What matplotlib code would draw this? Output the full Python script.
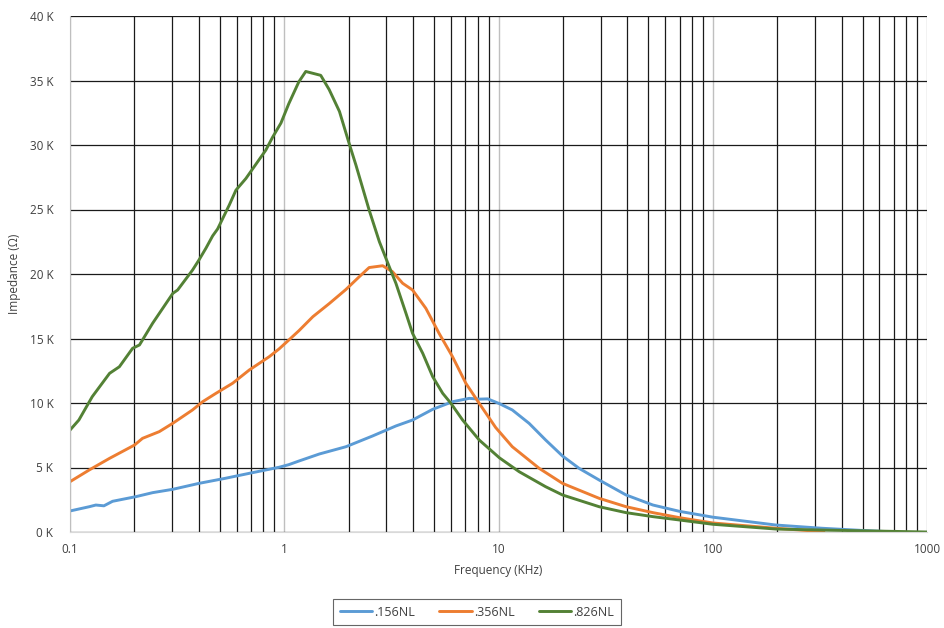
import matplotlib
matplotlib.use("Agg")
import matplotlib.pyplot as plt
from matplotlib.ticker import FixedLocator, FuncFormatter, NullFormatter

freq_blue = [0.1, 0.123, 0.132, 0.144, 0.158, 0.203, 0.243, 0.302, 0.40, 0.53, 0.711, 0.947, 1.05, 1.17, 1.46,
             1.94, 2.58, 3.32, 3.97, 4.93, 6.1, 7.3, 8.13, 8.9, 10.1, 11.6, 13.9, 16.6, 19.9, 23.8, 29.5, 39.4,
             52.6, 70, 100, 197, 324, 500, 650]
z_blue = [1.63, 1.96, 2.09, 2.03, 2.38, 2.74, 3.05, 3.31, 3.77, 4.16, 4.6, 5.02, 5.22, 5.5, 6.05,
          6.61, 7.44, 8.22, 8.68, 9.51, 10.1, 10.36, 10.3, 10.32, 9.95, 9.46, 8.42, 7.13, 5.89, 4.93, 4.03, 2.87,
          2.09, 1.6, 1.15, 0.54, 0.29, 0.12, 0.03]

freq_orange = [0.1, 0.123, 0.153, 0.20, 0.218, 0.261, 0.302, 0.373, 0.416, 0.48, 0.574, 0.687, 0.851, 0.947,
               1.05, 1.17, 1.36, 1.62, 1.94, 2.24, 2.49, 2.88, 3.20, 3.57, 3.97, 4.58, 5.28, 6.1, 7.04, 8.13,
               9.7, 11.6, 15.5, 19.9, 29.5, 39.4, 52.6, 70, 100, 197, 330]
z_orange = [3.9, 4.81, 5.71, 6.74, 7.26, 7.78, 8.43, 9.46, 10.10, 10.75, 11.53, 12.56, 13.59, 14.2,
            14.88, 15.6, 16.69, 17.7, 18.8, 19.79, 20.5, 20.64, 20.18, 19.28, 18.76, 17.34, 15.40, 13.59, 11.53, 9.97,
            8.1, 6.61, 4.93, 3.77, 2.61, 1.96, 1.50, 1.11, 0.7, 0.29, 0.02]

freq_green = [0.1, 0.110, 0.127, 0.153, 0.170, 0.196, 0.211, 0.243, 0.302, 0.318, 0.373, 0.40, 0.431, 0.463,
              0.489, 0.554, 0.595, 0.662, 0.82, 0.882, 0.965, 1.05, 1.17, 1.26, 1.48, 1.62, 1.81, 2.01, 2.16,
              2.49, 2.78, 3.09, 3.32, 3.70, 3.97, 4.43, 4.93, 5.49, 6.0, 6.8, 8.13, 10.1, 12.5, 16.6, 19.9,
              29.5, 39.4, 52.6, 70, 100, 197, 324, 1000]
z_green = [7.9, 8.68, 10.49, 12.30, 12.81, 14.24, 14.50, 16.18, 18.5, 18.76, 20.3, 21.09, 22.0, 22.95,
           23.5, 25.35, 26.5, 27.4, 29.6, 30.6, 31.7, 33.2, 34.9, 35.7, 35.4, 34.3, 32.6, 30.1, 28.45,
           24.96, 22.5, 20.57, 19.28, 16.95, 15.40, 13.85, 12.04, 10.75, 9.97, 8.68, 7.13, 5.75, 4.67, 3.51, 2.87,
           1.96, 1.50, 1.19, 0.93, 0.6, 0.23, 0.15, 0.0]

series = [
    (".156NL", freq_blue, z_blue, "#5B9BD5"),
    (".356NL", freq_orange, z_orange, "#ED7D31"),
    (".826NL", freq_green, z_green, "#538135"),
]

x_ticks = [0.1, 1, 10, 100, 1000]
y_ticks = [0, 5, 10, 15, 20, 25, 30, 35, 40]

plt.rcParams['font.family'] = ['Open Sans', 'DejaVu Sans']

fig = plt.figure(figsize=(9.44, 6.28), dpi=100)
ax = fig.add_axes([70/944, 1-532/628, 857/944, 516/628])

ax.set_xscale('log')
ax.set_xlim(0.1, 1000)
ax.set_ylim(0, 40)

minor = [m * 10.0**e for e in range(-1, 3) for m in range(2, 10)]
ax.xaxis.set_major_locator(FixedLocator(x_ticks))
ax.xaxis.set_minor_locator(FixedLocator(minor))
ax.xaxis.set_minor_formatter(NullFormatter())
ax.xaxis.set_major_formatter(FuncFormatter(lambda v, p: f"{v:g}"))
ax.set_yticks(y_ticks)
ax.yaxis.set_major_formatter(FuncFormatter(lambda v, p: f"{int(v)} K"))

ax.grid(True, which='major', axis='x', color='#bfbfbf', lw=1.0)
ax.grid(True, which='minor', axis='x', color='#1a1a1a', lw=0.9)
ax.grid(True, which='major', axis='y', color='#1a1a1a', lw=0.9)
ax.set_axisbelow(True)

for s in ['top', 'right']:
    ax.spines[s].set_visible(False)
ax.spines['left'].set_color('#bfbfbf')
ax.spines['bottom'].set_color('#d9d9d9')
ax.tick_params(which='both', length=0, labelsize=8.5, colors='#404040', pad=8)
ax.tick_params(axis='y', pad=12)

for name, f, z, c in series:
    ax.plot(f, z, color=c, lw=2.1, label=name, solid_capstyle='round', solid_joinstyle='round')

ax.set_xlabel("Frequency (KHz)", fontsize=8.5, color='#404040', labelpad=6)
ax.set_ylabel("Impedance (Ω)", fontsize=8.5, color='#404040', labelpad=6)

leg = fig.legend(loc='center', bbox_to_anchor=(477/944, 1-612/628), ncol=3, fontsize=9,
                 frameon=True, fancybox=False, edgecolor='#404040', handlelength=2.6,
                 columnspacing=1.9, handletextpad=0.2, borderpad=0.5, borderaxespad=0)
leg.get_frame().set_linewidth(0.8)
for t in leg.get_texts():
    t.set_color('#404040')

fig.savefig("out.png", dpi=100)
